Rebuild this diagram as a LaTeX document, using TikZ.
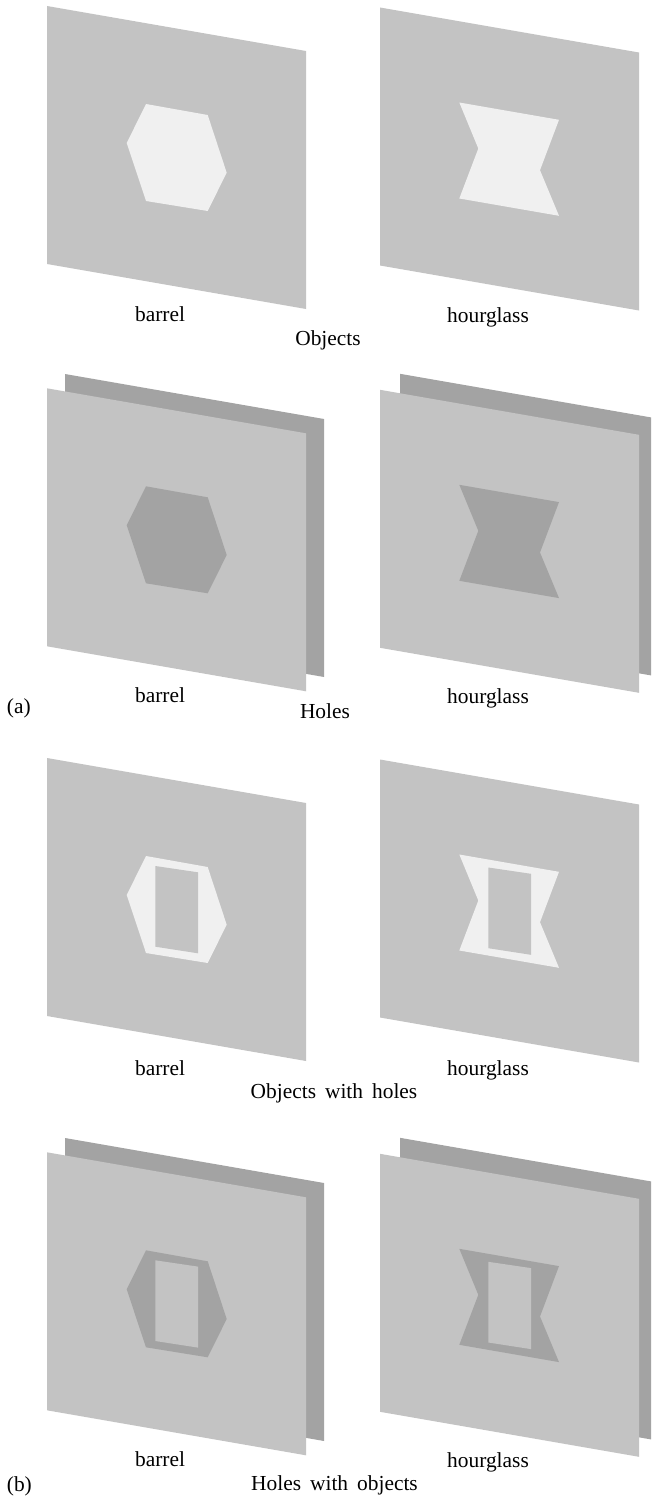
\documentclass[tikz,border=0pt]{standalone}
\usepackage{fontspec}
\setmainfont{Liberation Serif}
\definecolor{sheet}{RGB}{195,195,195}
\definecolor{dark}{RGB}{163,163,163}
\definecolor{light}{RGB}{240,240,240}
\newcommand{\lblfont}{\fontsize{21.4}{25}\selectfont\spaceskip=9pt plus 1pt\relax}
\newcommand{\frontsheet}{\fill[sheet] (0,0) -- (259,45) -- (259,303) -- (0,258) -- cycle;}
\newcommand{\backsheet}[2]{\fill[dark] (#1,#2) -- (259+#1,45+#2) -- (259+#1,303+#2) -- (#1,258+#2) -- cycle;}
\newcommand{\hexpath}{(99,98) -- (160.7,109) -- (179.7,166.7) -- (160.7,205) -- (99,195) -- (79.7,137) -- cycle}
\newcommand{\hgpath}{(79.3,95) -- (179,112.3) -- (160,162.7) -- (179,208.3) -- (79.3,191) -- (98.3,141) -- cycle}
\newcommand{\rectpath}{(108.3,108) -- (151,114.3) -- (151,195.3) -- (108.3,188.7) -- cycle}
\begin{document}
\begin{tikzpicture}[x=1pt,y=-1pt,
  lbl/.style={anchor=base,inner sep=0pt,font=\lblfont}]
\useasboundingbox (0,0) rectangle (651,1496);
\clip (0,0) rectangle (651,1496);
% Row 1: Objects
\begin{scope}[shift={(47,6)}]
  \frontsheet
  \fill[light] \hexpath;
\end{scope}
\begin{scope}[shift={(380,7.5)}]
  \frontsheet
  \fill[light] \hgpath;
\end{scope}
\node[lbl] (l1a) at (160,321.7) {barrel};
\node[lbl] (l1b) at (488,322.3) {hourglass};
\node[lbl] (t1) at (328,345) {Objects};
% Row 2: Holes
\begin{scope}[shift={(47,388.3)}]
  \backsheet{18}{-14.3}
  \frontsheet
  \fill[dark] \hexpath;
\end{scope}
\begin{scope}[shift={(380,389.8)}]
  \backsheet{20}{-16}
  \frontsheet
  \fill[dark] \hgpath;
\end{scope}
\node[lbl] (l2a) at (160,702.7) {barrel};
\node[lbl] (l2b) at (488,703.3) {hourglass};
\node[lbl] (t2) at (325,718) {Holes};
\node[lbl,anchor=base west] (pa) at (6.7,713) {(a)};
% Row 3: Objects with holes
\begin{scope}[shift={(47,758)}]
  \frontsheet
  \fill[light] \hexpath;
  \fill[sheet] \rectpath;
\end{scope}
\begin{scope}[shift={(380,759.5)}]
  \frontsheet
  \fill[light] \hgpath;
  \fill[sheet] \rectpath;
\end{scope}
\node[lbl] (l3a) at (160,1075) {barrel};
\node[lbl] (l3b) at (488,1075.5) {hourglass};
\node[lbl] (t3) at (334,1098) {Objects with holes};
% Row 4: Holes with objects
\begin{scope}[shift={(47,1152.3)}]
  \backsheet{18}{-14.3}
  \frontsheet
  \fill[dark] \hexpath;
  \fill[sheet] \rectpath;
\end{scope}
\begin{scope}[shift={(380,1153.8)}]
  \backsheet{20}{-16}
  \frontsheet
  \fill[dark] \hgpath;
  \fill[sheet] \rectpath;
\end{scope}
\node[lbl] (l4a) at (160,1466.7) {barrel};
\node[lbl] (l4b) at (488,1467.3) {hourglass};
\node[lbl] (t4) at (334.5,1490) {Holes with objects};
\node[lbl,anchor=base west] (pb) at (6.7,1491.7) {(b)};
\end{tikzpicture}
\end{document}
